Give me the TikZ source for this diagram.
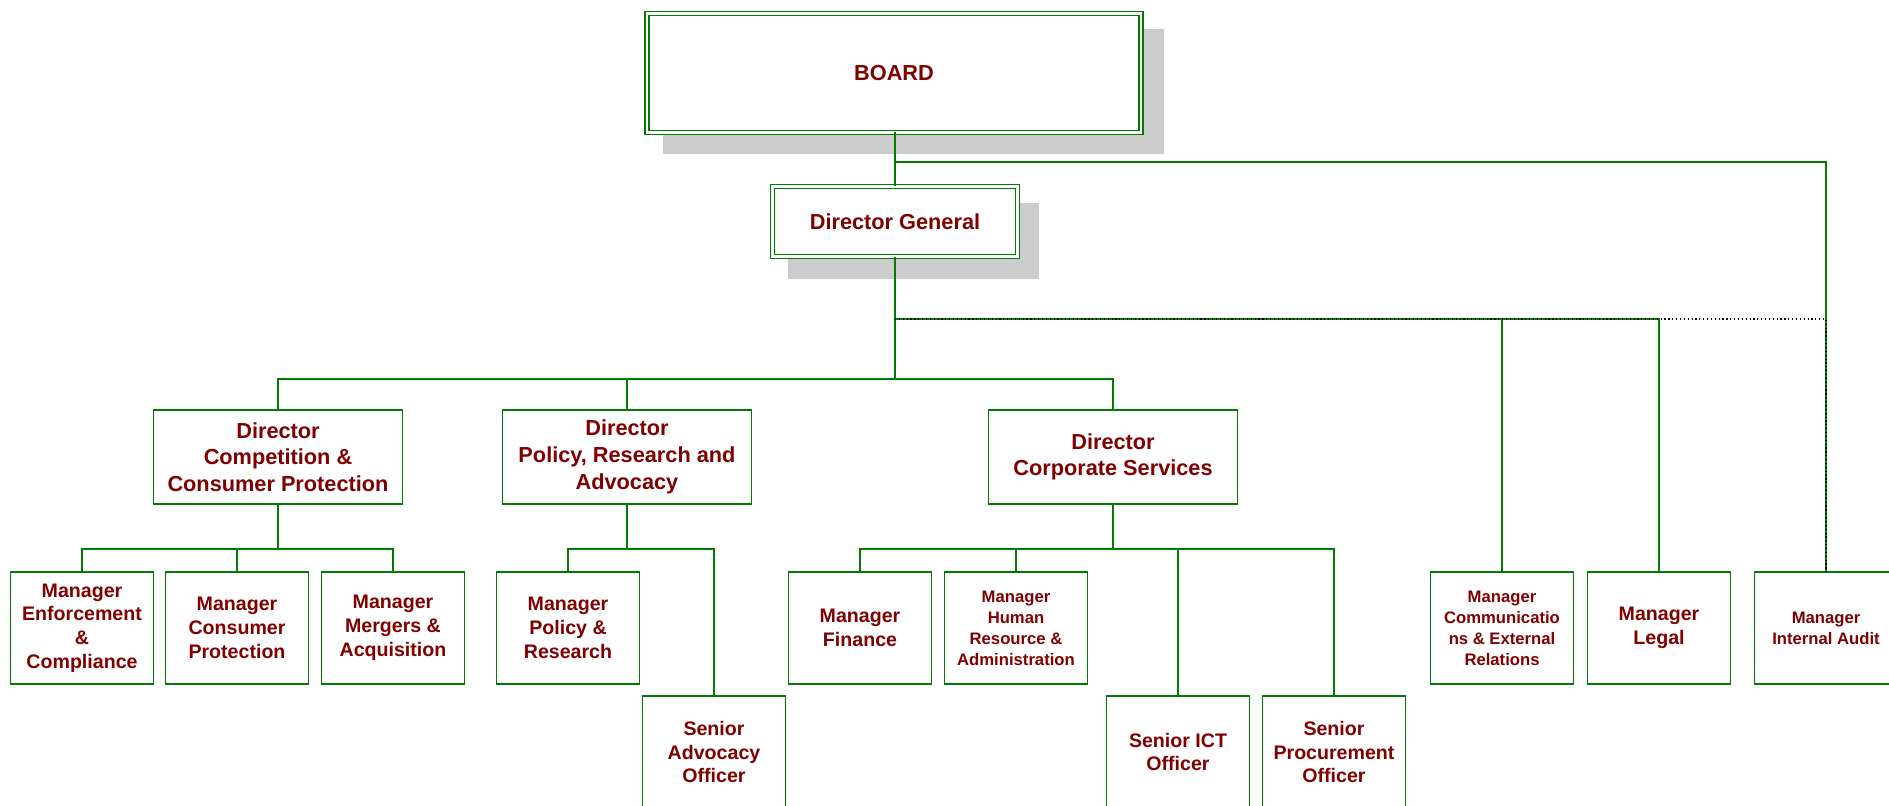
\documentclass[tikz,border=0pt]{standalone}
\usepackage{fontspec}
\setmainfont{Liberation Sans}
\definecolor{lgreen}{RGB}{0,125,0}
\definecolor{tred}{RGB}{128,0,0}
\definecolor{shadowgray}{RGB}{204,204,204}
\tikzset{
  base/.style={draw=lgreen, line width=1pt, fill=white, inner sep=0pt, outer sep=0pt, align=center, text=tred, font=\bfseries},
  topbox/.style={base, line width=0.9pt, double=white, double distance=2.2pt},
  dirbox/.style={base, minimum width=186.75pt, minimum height=70.5pt, font=\bfseries\fontsize{16.3}{20}\selectfont},
  mgrbox/.style={base, minimum width=107.25pt, minimum height=84pt, font=\bfseries\fontsize{14.7}{17.8}\selectfont},
  smallbox/.style={mgrbox, font=\bfseries\fontsize{12.5}{15.7}\selectfont},
  conn/.style={draw=lgreen, line width=0.9pt},
  dotconn/.style={draw=black, line width=0.9pt, dotted}
}
\begin{document}
\begin{tikzpicture}[x=0.75pt, y=-0.75pt]
\useasboundingbox (0,0) rectangle (1889,806);
% shadows
\fill[shadowgray] (663,29) rectangle (1164,154);
\fill[shadowgray] (788,203) rectangle (1039,279);
% top boxes
\node[topbox, minimum width=370.5pt, minimum height=89.25pt, font=\bfseries\fontsize{16.3}{20}\selectfont] (board) at (894,73) {BOARD};
\node[topbox, minimum width=183.75pt, minimum height=52.5pt, font=\bfseries\fontsize{16.3}{20}\selectfont] (dg) at (895,221.5) {Director General};
% directors
\node[dirbox] (d1) at (278,457) {Director\\Competition \&\\Consumer Protection};
\node[dirbox] (d2) at (627,457) {Director\\Policy, Research and\\Advocacy};
\node[dirbox] (d3) at (1113,457) {Director\\Corporate Services};
% managers
\node[mgrbox] (m1) at (82,628) {Manager\\Enforcement\\\&\\Compliance};
\node[mgrbox] (m2) at (237,628) {Manager\\Consumer\\Protection};
\node[mgrbox] (m3) at (393,628) {Manager\\Mergers \&\\Acquisition};
\node[mgrbox] (m4) at (568,628) {Manager\\Policy \&\\Research};
\node[mgrbox] (m5) at (860,628) {Manager\\Finance};
\node[smallbox] (m6) at (1016,628) {Manager\\Human\\Resource \&\\Administration};
\node[smallbox] (m7) at (1502,628) {Manager\\Communicatio\\ns \& External\\Relations};
\node[mgrbox] (m8) at (1659,628) {Manager\\Legal};
\node[smallbox] (m9) at (1826,628) {Manager\\Internal Audit};
% seniors
\node[mgrbox] (s1) at (714,752) {Senior\\Advocacy\\Officer};
\node[mgrbox] (s2) at (1178,752) {Senior ICT\\Officer};
\node[mgrbox] (s3) at (1334,752) {Senior\\Procurement\\Officer};
% junctions
\coordinate (bj) at (895,162);
\coordinate (dl) at (895,319);
\coordinate (dj) at (895,379);
\coordinate (c1) at (278,549);
\coordinate (c2) at (627,549);
\coordinate (c3) at (1113,549);
% connectors
\draw[conn] (dg.north) -- (dg.north |- board.south);
\draw[conn] (bj) -| (m9.north);
\draw[conn] (dg.south) -- (dj);
\draw[conn] (d1.north) |- (dj) -| (d3.north);
\draw[conn] (d2.north) -- (d2.north |- dj);
\draw[conn] (dl) -| (m7.north);
\draw[conn] (dl) -| (m8.north);
\draw[dotconn] (dl) -| (m9.north);
\draw[conn] (d1.south) -- (c1);
\draw[conn] (m1.north) |- (c1) -| (m3.north);
\draw[conn] (m2.north) -- (m2.north |- c1);
\draw[conn] (d2.south) -- (c2);
\draw[conn] (m4.north) |- (c2) -| (s1.north);
\draw[conn] (d3.south) -- (c3);
\draw[conn] (m5.north) |- (c3) -| (s3.north);
\draw[conn] (m6.north) -- (m6.north |- c3);
\draw[conn] (s2.north) -- (s2.north |- c3);
\end{tikzpicture}
\end{document}
